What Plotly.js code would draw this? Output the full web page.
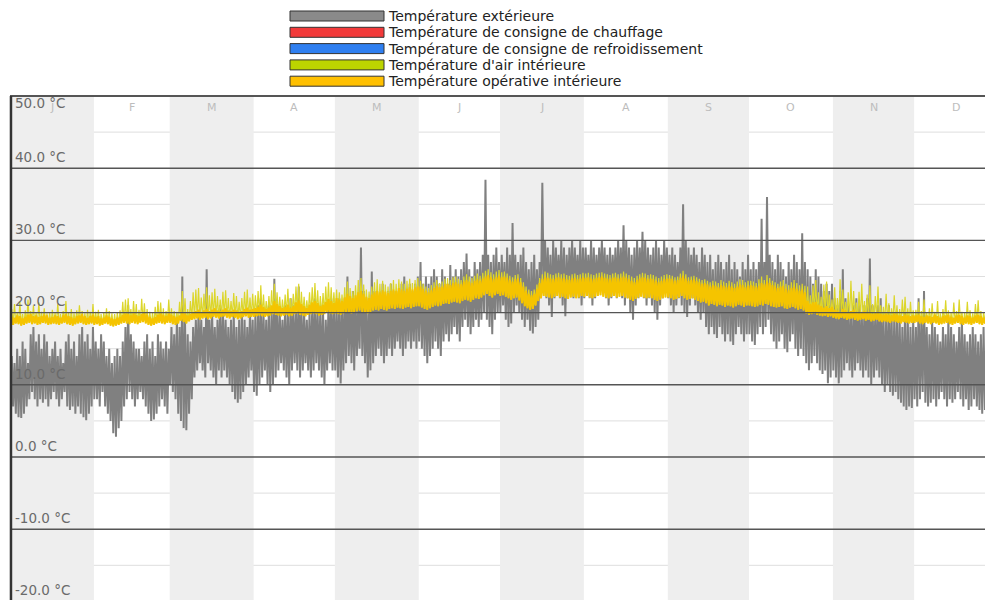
<!DOCTYPE html>
<html><head><meta charset="utf-8">
<script src="https://cdn.plot.ly/plotly-3.0.1.min.js"></script>
<style>html,body{margin:0;padding:0;overflow:hidden;background:#fff}#chart{width:985px;height:620px}</style>
</head><body><div id="chart"></div>
<script>
const monthLabels = ['J','F','M','A','M','J','J','A','S','O','N','D'];
const monthDays = [31,28,31,30,31,30,31,31,30,31,30,31];
const yTickValues = [-20,-10,0,10,20,30,40];
const yTickLabels = ['-20.0 °C','-10.0 °C','0.0 °C','10.0 °C','20.0 °C','30.0 °C','40.0 °C'];
const yTopValue = [50];
const yTopLabel = ['50.0 °C'];
const majorGrid = [-10,0,10,20,30,40];
const minorGrid = [-15,-5,5,15,25,35,45];
const seriesNames = ['Température extérieure','Température de consigne de chauffage','Température de consigne de refroidissement',"Température d'air intérieure",'Température opérative intérieure'];
const legendColors = ['#8a8a8a','#f23a3a','#2f7ff0','#bcd400','#ffc000'];

// daily outdoor temperature (min / max), °C
const outdoorMax = [
14,13,15,14,16,15,13,17,18,16,17,15,17,16,14,15,16,14,15,13,16,17,15,16,14,17,18,16,17,15,18,
16,15,17,16,14,15,13,14,15,14,16,18,21,17,16,15,15,14,16,17,15,16,14,17,16,15,16,15,
18,17,19,18,25,19,17,16,18,19,20,19,18,26,19,20,18,19,21,20,19,18,19,20,18,19,20,19,18,20,19,
20,21,22,20,19,21,20,24.7,21,20,19,21,20,22,21,20,23.6,21,20,19,20,21,22,20,21,20,19,21,22,21,
21,22,21,22,25,22,23,22,21,29,23,22,21,25.7,23,22,23,24,22,23,24,23,22,23,24,25,23,24,23,24,25,
27,24,25,24,25,26,25,24,26,25,24,26.6,25,26,25,26,27,28.2,26,25,27,26,27,28,38.4,28,27,28,29,27,
28,27,29,28,32.4,28,27,28,29,27,26,27,28,26,27,38,30,29,28,30,29,28,30,29,28,29,30,29,28,30,29,
29,28,30,29,28,29,30,29,28,29,28,29,30,29,32.1,30,29,28,29,30,29,31.2,30,29,28,29,30,29,28,30,29,
28,29,28,27,29,35,30,29,28,29,28,27,29,28,27,28,26,27,28,27,26,27,28,26,27,26,25,27,26,28,
26,27,26,27,33,27,36,28,27,26,28,27,26,25,27,26,28,27,26,31,27,26,25,24,26,25,24,23,24,23,24,
22,21,23,26,22,21,20,21,22,21,20,21,22,27.5,21,20,21,22,20,19,21,20,19,20,19,18,20,19,18,19,
18,22,19,23,18,17,19,18,17,16,18,17,19,18,17,16,18,19,17,16,17,18,17,16,17,18,17,16,17,16,17];
const outdoorMin = [
6,7,6,5.5,5.4,6,7,8,9,8,7,8,7.5,8,7,8,9,8,7,8,9,7,6.5,7,6,7,6,5.5,5.1,6,7,
8,8,7,9,7,6,5,3.3,2.8,4,5,7,8,9,8,7,8,9,8,7,6,5,5.2,6,7,8,7,6,
10,9,8,6,5,4,3.7,6,8,11,12,13,12,11,13,12,11,10,12,11,12,11,10,9,8,7.5,8,9,10,11,12,
9,8.5,10,11,12,10,9,10,11,12,13,12,11,10,12,13,12,11,12,13,12,11,12,13,12,11,10,12,13,12,
12,11,10.2,12,13,14,13,12,14,15,14,13,11,12,13,14,15,14,13,14,15,14,15,16,15,14,15,16,15,16,15,
16,15,14,13,14,15,16,15,14,16,17,16,17,18,17,16,18,19,18,17,18,19,18,19,20,19,18,17,19,20,
20,21,19,18,18.5,20,21,20,19,18,19,17.5,17.1,18,19,22,23,22,21,19.4,22,23,22,21,19.5,22,23,22,23,22,21,
22,23,22,21,22,23,24,23,22,21,22,23,22,23,22,21,22,20,19,21,22,23,22,21,22,21,20,19,21,22,23,
22,21,20,21,22,21,20,19.4,21,22,21,20,19,20,18,17,18,17,16.5,18,17,16,17,16,15.5,17,18,17,16,17,
17,16,15.5,17,18,17,18,19,17,16,15,16,17,15,14.5,16,17,15,14,15,14,13,12,13,14,13,12,11.5,12,10.2,11,
12,11,10.2,11,12,13,12,11,12,13,12,11,12,11,10,11,12,11,10,9,10,9,8.5,9,8,7.5,7,6.5,7,6.8,
8,7,8,9,7.5,7,7.5,8,7,8,9,8,7,8,7.5,8,9,8,7,8,6.5,7,8,7,6.5,6,6.5,7,6,6.5,7];

// daily indoor operative temperature (min / max), °C
const operativeMin = [
18.4,18.3,18.5,18.4,18.2,18.3,18.5,18.6,18.4,18.5,18.3,18.4,18.6,18.5,18.3,18.4,18.5,18.4,18.3,18.5,18.6,18.4,18.3,18.2,18.4,18.5,18.6,18.4,18.3,18.4,18.5,
18.3,18.4,18.2,18.3,18.5,18.4,18.2,18.1,18.2,18.3,18.5,18.6,18.5,18.4,18.6,18.5,18.4,18.6,18.7,18.5,18.3,18.2,18.3,18.5,18.6,18.5,18.4,18.6,
18.6,18.4,18.3,18.5,18.9,18.7,18.5,18.8,19,19.1,19.2,19,19.2,19.3,19.1,19.2,19.4,19.3,19.2,19.4,19.5,19.3,19.2,19.4,19.3,19.1,19.2,19.4,19.5,19.3,19.4,
19.4,19.5,19.6,19.5,19.4,19.5,19.6,19.8,19.7,19.6,19.5,19.6,19.7,19.5,19.6,19.8,19.9,19.7,19.6,19.5,19.7,19.8,19.9,19.8,19.6,19.7,19.8,20,19.9,19.8,
19.9,19.8,19.7,19.9,20.1,20,19.9,20.1,20.2,20.3,20.1,20,19.9,20.1,20.3,20.4,20.3,20.5,20.4,20.3,20.5,20.6,20.5,20.7,20.6,20.5,20.7,20.8,20.6,20.8,20.9,
20.9,20.7,20.5,20.4,20.6,20.8,21,20.9,21,21.2,21.3,21.2,21.4,21.5,21.4,21.3,21.6,21.8,21.7,21.5,21.8,22,21.9,22.1,22.4,22.6,22.3,22.1,22.4,22.6,
22.3,22.4,22.2,22,21.8,22,22.1,21.7,21.3,20.9,20.6,20.4,20.5,21,21.6,22,22.3,22.2,22.1,22,22.2,22.3,22.1,22.2,22,21.9,22.1,22.2,22,22.1,22.3,
22.2,22.3,22.1,22,22.2,22.3,22.4,22.2,22.1,22,22.2,22.3,22.1,22.2,22.3,22.1,22,21.8,21.6,21.9,22.1,22.2,22.1,22,22.1,22,21.8,21.6,21.8,22,22.1,
22.1,22,21.8,21.9,22.1,22.3,22,21.8,21.9,22,21.8,21.6,21.4,21.5,21.3,21,21.2,21.1,20.9,21.1,21,20.8,21,20.9,20.7,20.9,21.1,21,20.8,21,
21,20.9,20.8,20.9,21.1,21,21.2,21.1,20.9,20.8,20.7,20.8,20.9,20.6,20.5,20.7,20.8,20.6,20.4,20.5,20.3,19.9,19.7,19.8,19.9,19.7,19.6,19.5,19.6,19.4,19.5,
19.3,19.2,19.1,19.3,19.2,19,19.1,19.2,19,18.9,19,19.1,18.9,19,18.8,18.9,19,18.8,18.7,18.8,18.7,18.6,18.8,18.7,18.6,18.5,18.7,18.6,18.5,18.6,
18.6,18.7,18.5,18.4,18.6,18.5,18.4,18.6,18.5,18.3,18.4,18.5,18.6,18.4,18.3,18.5,18.6,18.4,18.3,18.5,18.4,18.3,18.5,18.6,18.4,18.3,18.5,18.4,18.3,18.5,18.4];
const operativeMax = [
19.4,19.3,19.6,19.5,19.2,19.4,19.7,19.8,19.5,19.6,19.4,19.5,19.7,19.6,19.3,19.4,19.6,19.5,19.3,19.6,19.8,19.5,19.4,19.2,19.5,19.6,19.8,19.5,19.3,19.5,19.7,
19.4,19.5,19.2,19.3,19.6,19.4,19.2,19.1,19.3,19.4,19.7,19.9,19.8,19.6,19.9,19.7,19.5,19.8,20,19.7,19.4,19.2,19.4,19.7,19.9,19.7,19.5,19.9,
19.7,19.5,19.4,19.6,20.1,19.9,19.6,19.8,20.1,20.2,20.4,20.1,20.3,20.5,20.2,20.4,20.6,20.3,20.2,20.4,20.6,20.3,20.2,20.4,20.3,20.1,20.2,20.5,20.7,20.4,20.5,
20.6,20.8,21.1,20.8,20.5,20.7,21,21.6,21.2,20.9,20.6,20.8,21.1,20.7,20.9,21.4,21.7,21.2,20.9,20.6,21.1,21.4,21.6,21.3,20.9,21.1,21.5,21.9,21.6,21.3,
22,21.8,21.6,22.1,22.6,22.3,22,22.4,22.8,23,22.6,22.2,22,22.5,22.8,23,22.8,23.1,22.9,22.7,23,23.2,23,23.4,23.2,23,23.3,23.5,23.2,23.5,23.6,
23.6,23.3,23,22.8,23.1,23.4,23.7,23.5,23.6,23.9,24,23.8,24.1,24.2,24,23.9,24.3,24.5,24.3,24.1,24.4,24.6,24.4,24.7,25,25.2,24.9,24.6,24.9,25.1,
24.9,25,24.8,24.5,24.3,24.6,24.7,24.2,23.6,23,22.6,22.4,22.6,23.3,24.1,24.6,25,24.8,24.7,24.6,24.8,24.9,24.7,24.8,24.6,24.5,24.7,24.8,24.6,24.7,24.9,
24.8,24.9,24.7,24.6,24.8,24.9,25,24.8,24.7,24.6,24.8,24.9,24.7,24.8,25,24.8,24.6,24.4,24.2,24.5,24.7,24.9,24.8,24.6,24.7,24.6,24.4,24.2,24.4,24.6,24.7,
24.7,24.6,24.4,24.5,24.8,25.1,24.7,24.4,24.5,24.6,24.4,24.2,24,24.1,23.9,23.6,23.8,23.7,23.5,23.8,23.7,23.5,23.7,23.6,23.4,23.6,23.9,23.8,23.5,23.7,
23.8,23.7,23.5,23.7,24.1,23.9,24.3,24.1,23.8,23.6,23.4,23.6,23.7,23.3,23.1,23.4,23.6,23.3,23,23.2,22.8,21.6,21.2,21.4,21.5,21.1,20.9,20.7,20.9,20.6,20.8,
20.4,20.3,20.1,20.5,20.3,20,20.2,20.4,20.1,19.9,20.1,20.2,19.9,20.1,19.8,19.9,20.1,19.8,19.7,19.9,19.7,19.6,19.9,19.7,19.6,19.5,19.7,19.6,19.5,19.6,
19.6,19.7,19.5,19.4,19.6,19.5,19.4,19.7,19.5,19.3,19.5,19.6,19.7,19.4,19.3,19.6,19.7,19.5,19.3,19.6,19.5,19.3,19.6,19.7,19.5,19.3,19.6,19.5,19.3,19.6,19.5];

// daily indoor air temperature peaks, °C (daily lows follow the operative lows)
const airMax = [
20.5,21.2,20,21.5,19.8,20.3,21.8,20.2,21,20,21.4,20.1,20.6,19.9,20,20.4,20,21.3,19.8,20.2,21.6,20,20.5,19.9,20.3,21,20.2,19.9,20.4,20.1,21.2,
20.1,20.4,19.8,20,20.6,20.2,19.9,19.8,20,20.3,21.5,21.8,22,20.5,21.6,21.2,20.4,21.9,21.3,20.5,20.1,20,20.8,21.6,21.4,20.6,20.2,21.8,
20.6,20.2,20.1,21.5,23,22,20.5,21.6,22.8,23.2,23.4,22.1,22.6,23.5,22.4,22.8,23.3,22.3,21.8,22.9,23.1,22,21.6,22.7,22.3,21.5,22,22.9,23.2,22.1,22.6,
22.4,23,23.8,22.5,21.6,22.3,23.1,24,22.8,22.2,21.8,22.5,23.3,22,22.6,23.6,24,22.9,22.2,21.7,22.8,23.5,24.1,23.1,22.3,22.7,23.6,24.2,23.5,22.8,
23.2,22.8,22.5,23.5,24.3,23.4,23,23.8,24.5,24.8,23.9,23.2,22.9,23.6,24.2,24.6,24,24.4,23.9,23.6,24.1,24.5,24,24.6,24.3,24,24.4,24.7,24.1,24.5,24.8,
24.4,24,23.6,23.4,23.8,24.2,24.5,24.1,24.3,24.7,24.8,24.5,24.9,25,24.7,24.5,25,25.3,25,24.8,25.1,25.4,25.1,25.5,25.8,26,25.6,25.3,25.7,25.9,
25.6,25.7,25.4,25.1,24.9,25.2,25.3,24.8,24.2,23.6,23.2,23,23.2,23.9,24.8,25.3,25.7,25.5,25.3,25.2,25.4,25.5,25.3,25.4,25.2,25.1,25.3,25.4,25.2,25.3,25.5,
25.4,25.5,25.3,25.2,25.4,25.5,25.6,25.4,25.3,25.2,25.4,25.5,25.3,25.4,25.7,25.4,25.2,25,24.8,25.1,25.3,25.5,25.4,25.2,25.3,25.2,25,24.8,25,25.2,25.3,
25.2,25.1,24.9,25,25.4,25.8,25.3,24.9,25,25.1,24.9,24.7,24.5,24.6,24.4,24.2,24.4,24.3,24.1,24.5,24.3,24.1,24.4,24.2,24,24.3,24.6,24.5,24.2,24.4,
24.4,24.3,24.1,24.6,25,24.5,25.2,24.8,24.4,24.2,24,24.3,24.5,24,23.8,24.2,24.5,24.1,23.8,24,23.7,23.6,22.4,23.8,24.5,22.8,22.2,23.9,24.3,22.5,21.8,
23.5,22,24.6,23.2,21.5,22.8,24.4,23,21.4,22.9,24,21.6,22.5,23.8,21.2,22.3,23.6,21,20.8,22.6,21.3,20.6,22.4,21,20.5,21.8,22.2,20.6,21.5,20.3,
20.4,21.5,20.2,21.8,20,20.6,21.3,20.1,21.6,19.9,20.5,21.7,20.3,20,21.4,20.2,21.8,20.1,20,21.5,20.3,19.9,21.2,21.7,20.2,20,21.6,20.4,20,21.3,20.5];

// each day is drawn as its low then its high
function dailySwing(lows, highs){
  const x = [], y = [];
  for (let d = 0; d < lows.length; d++){
    x.push(d + 0.15, d + 0.65);
    y.push(lows[d], highs[d]);
  }
  return {x, y};
}
const out = dailySwing(outdoorMin, outdoorMax);
const air = dailySwing(operativeMin, airMax);
const op = dailySwing(operativeMin, operativeMax);

const traces = [
  {type:'scatter', mode:'lines', name:seriesNames[0], x:out.x, y:out.y, line:{color:'#808080', width:2}, hoverinfo:'skip'},
  {type:'scatter', mode:'lines', name:seriesNames[3], x:air.x, y:air.y, line:{color:'#dcd62a', width:1.2}, hoverinfo:'skip'},
  {type:'scatter', mode:'lines', name:seriesNames[4], x:op.x, y:op.y, line:{color:'#f5c400', width:2}, hoverinfo:'skip'}
];

// month geometry
const monthStart = [];
let acc = 0;
monthDays.forEach(n => { monthStart.push(acc); acc += n; });
const monthMid = monthStart.map((s,i) => s + monthDays[i]/2);

// page geometry: plot spans x 10..985, 50 °C at y=96, 7.22 px per °C
const W = 985, H = 620, ML = 10, MT = 85, MB = 0, K = 7.22, Y50 = 96;
const plotW = W - ML, plotH = H - MT - MB;
const yTop = 50 + (Y50 - MT) / K, yBottom = yTop - plotH / K;
const px2x = p => (p - ML) / plotW;
const py2y = p => 1 - (p - MT) / plotH;

const shapes = [];
monthStart.forEach((s,i) => {
  if (i % 2 === 0) shapes.push({type:'rect', xref:'x', yref:'y', x0:s, x1:s+monthDays[i], y0:yBottom, y1:50, fillcolor:'#eeeeee', line:{width:0}, layer:'below'});
});
minorGrid.forEach(v => shapes.push({type:'line', xref:'paper', yref:'y', x0:0, x1:1, y0:v, y1:v, line:{color:'#dedede', width:1}, layer:'below'}));
majorGrid.forEach(v => shapes.push({type:'line', xref:'paper', yref:'y', x0:0, x1:1, y0:v, y1:v, line:{color:'#555555', width:1.4}, layer:'above'}));
shapes.push({type:'line', xref:'paper', yref:'y', x0:0, x1:1, y0:50, y1:50, line:{color:'#555555', width:2}, layer:'above'});
shapes.push({type:'line', xref:'paper', yref:'y', x0:0.001, x1:0.001, y0:yBottom, y1:50, line:{color:'#333333', width:2.5}, layer:'above'});

const annotations = [];
// month letters
monthLabels.forEach((m,i) => annotations.push({xref:'x', yref:'y', x:monthMid[i], y:50 - 11/K, text:m, showarrow:false, xanchor:'center', yanchor:'middle', font:{family:'DejaVu Sans', size:11, color:'#bdbdbd'}}));
// legend drawn as swatches + text
seriesNames.forEach((name,i) => {
  const cy = 16 + i*16.3;
  shapes.push({type:'rect', xref:'paper', yref:'paper', x0:px2x(290), x1:px2x(384), y0:py2y(cy+5), y1:py2y(cy-5), fillcolor:legendColors[i], line:{color:'#333333', width:1}});
  annotations.push({xref:'paper', yref:'paper', x:px2x(386), y:py2y(cy), xanchor:'left', yanchor:'middle', text:name, showarrow:false, font:{family:'DejaVu Sans', size:14, color:'#222222'}});
});

const tickFont = {family:'DejaVu Sans', size:13.5, color:'#6a6a6a'};
const layout = {
  width:W, height:H, margin:{l:ML, r:0, t:MT, b:MB, pad:0},
  paper_bgcolor:'#ffffff', plot_bgcolor:'#ffffff', showlegend:false,
  xaxis:{range:[0, plotW/2.707], showticklabels:false, ticks:'', showgrid:false, zeroline:false, showline:false, fixedrange:true},
  yaxis:{range:[yBottom, yTop], tickvals:yTickValues, ticktext:yTickLabels, ticklabelposition:'inside', ticklabelshift:-11, ticklabelstandoff:2, ticks:'', showgrid:false, zeroline:false, showline:false, tickfont:tickFont, fixedrange:true},
  yaxis2:{range:[yBottom, yTop], overlaying:'y', side:'left', anchor:'x', tickvals:yTopValue, ticktext:yTopLabel, ticklabelposition:'inside', ticklabelshift:7, ticklabelstandoff:2, ticks:'', showgrid:false, zeroline:false, showline:false, tickfont:tickFont, fixedrange:true},
  shapes, annotations
};
traces.push({type:'scatter', mode:'lines', x:[], y:[], yaxis:'y2', showlegend:false, hoverinfo:'skip'});
Plotly.newPlot('chart', traces, layout, {displayModeBar:false, staticPlot:true});
</script></body></html>
